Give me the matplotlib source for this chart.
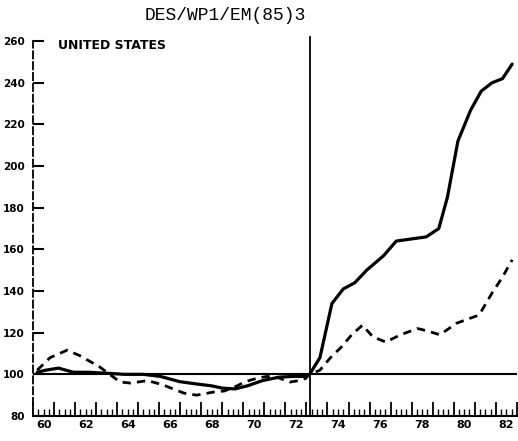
import numpy as np
import matplotlib.pyplot as plt

# solid line
t_solid = [1960.2, 1960.61, 1961.21, 1961.92, 1962.63, 1963.54, 1964.34, 1965.25, 1966.06,
           1966.97, 1967.68, 1968.48, 1968.99, 1969.6, 1970.2, 1970.91, 1971.72, 1972.42,
           1972.95, 1973.15, 1973.64, 1974.21, 1974.75, 1975.3, 1975.86, 1976.67, 1977.27,
           1977.98, 1978.69, 1979.29, 1979.7, 1980.2, 1980.81, 1981.31, 1981.82, 1982.32, 1982.78]
v_solid = [101, 102, 103, 101, 101, 100.5, 100, 100, 99,
           96.5, 95.5, 94.5, 93.4, 93, 94.5, 97, 98.7, 99,
           99, 100, 108, 134, 141, 144, 150, 157, 164,
           165, 166, 170, 185, 212, 227, 236, 240, 242, 249]

# dashed line
t_dash = [1960.2, 1960.81, 1961.62, 1962.22, 1963.18, 1964.14, 1964.65, 1965.45, 1966.16,
          1967.17, 1967.78, 1968.59, 1969.09, 1969.6, 1970.1, 1970.6, 1971.11, 1971.62,
          1972.22, 1972.63, 1972.95, 1973.15, 1973.64, 1974.14, 1974.65, 1975.15, 1975.66,
          1976.16, 1976.77, 1977.47, 1978.28, 1978.69, 1979.34, 1980.15, 1981.21, 1981.82,
          1982.32, 1982.78]
v_dash = [102, 108, 111.6, 109, 103.5, 96.3, 95.8, 97, 95,
          91, 90, 91.5, 92, 94, 96.5, 98, 99, 98.5,
          96.3, 97, 98, 100, 102, 108, 113, 119, 123.6,
          118, 115.5, 119, 122, 121, 119, 124.6, 128.5, 139,
          146.7, 155]

years = np.arange(1960, 1984)
year_labels = [str(y % 100) for y in range(1960, 1983, 2)]
y_ticks = list(range(80, 261, 20))

fig = plt.figure(figsize=(5.18, 4.41), dpi=100)
ax = fig.add_axes([0.0637, 0.0567, 0.934, 0.850])

ax.plot(t_solid, v_solid, color='black', lw=2.3, solid_capstyle='round', zorder=3)
ax.plot(t_dash, v_dash, color='black', lw=2.0, ls=(0, (3, 2.2)), zorder=3)

ax.axhline(100, color='black', lw=1.5, zorder=2)
ax.plot([1973.15, 1973.15], [80, 262], color='black', lw=1.3, clip_on=False, zorder=2)

ax.set_xlim(1960, 1983)
ax.set_ylim(80, 260)

for s in ['top', 'right']:
    ax.spines[s].set_visible(False)
ax.spines['left'].set_linestyle((0, (4, 2)))
ax.spines['left'].set_linewidth(1.3)
ax.spines['bottom'].set_linewidth(1.5)

ax.set_yticks(y_ticks)
ax.set_yticklabels([str(v) for v in y_ticks], fontsize=7.5, fontweight='bold')
ax.tick_params(axis='y', direction='in', length=8, width=1.5, pad=6)

ax.set_xticks(years)
ax.set_xticks(np.arange(1960, 1983.01, 0.25), minor=True)
ax.tick_params(axis='x', which='major', direction='in', length=10, width=1.3, labelbottom=False)
ax.tick_params(axis='x', which='minor', direction='in', length=5, width=1.0)

sec = ax.secondary_xaxis('bottom')
sec.set_xticks(np.arange(1960, 1983, 2) + 0.5)
sec.set_xticklabels(year_labels, fontsize=8, fontweight='bold')
sec.tick_params(length=0, pad=3)
sec.spines['bottom'].set_visible(False)

fig.text(0.28, 0.965, 'DES/WP1/EM(85)3', fontsize=13, family='Liberation Mono', va='center')
ax.text(1961.2, 258, 'UNITED STATES', fontsize=9, fontweight='bold', va='center')

fig.savefig('out.png', dpi=100)
